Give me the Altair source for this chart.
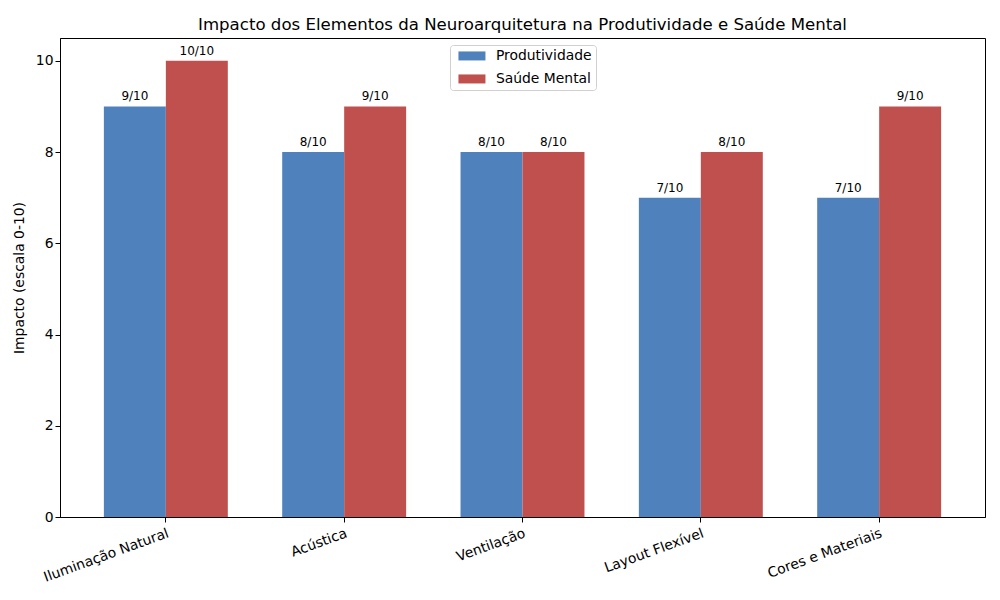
import altair as alt
import pandas as pd

categories = ["Iluminação Natural", "Acústica", "Ventilação", "Layout Flexível", "Cores e Materiais"]
produtividade = [9, 8, 8, 7, 7]
saude_mental = [10, 9, 8, 8, 9]
series = ["Produtividade", "Saúde Mental"]
colors = ["#4f81bd", "#c0504d"]

rows = []
for c, p, s in zip(categories, produtividade, saude_mental):
    rows.append({"cat": c, "serie": series[0], "valor": p, "label": f"{p}/10"})
    rows.append({"cat": c, "serie": series[1], "valor": s, "label": f"{s}/10"})
df = pd.DataFrame(rows)

FONT = "DejaVu Sans"

xenc = alt.X("cat:N", sort=categories, title=None,
             scale=alt.Scale(paddingInner=0.305, paddingOuter=0.246),
             axis=alt.Axis(labelAngle=-20, labelAlign="right", labelBaseline="top",
                           labelFontSize=13.9, labelColor="black", tickColor="black",
                           domainColor="black", tickSize=5, labelPadding=4, labelFont=FONT))
yenc = alt.Y("valor:Q", title="Impacto (escala 0-10)",
             scale=alt.Scale(domain=[0, 10.5], nice=False),
             axis=alt.Axis(values=[0, 2, 4, 6, 8, 10], grid=False, labelFontSize=13.9,
                           labelColor="black", tickColor="black", domainColor="black",
                           tickSize=5, titleFontSize=13.9, titleFontWeight="normal",
                           titleColor="black", titleFont=FONT, labelFont=FONT, titlePadding=9))
xoff = alt.XOffset("serie:N", sort=series, scale=alt.Scale(paddingInner=0, paddingOuter=0))

bars = alt.Chart(df).mark_bar().encode(
    x=xenc, y=yenc, xOffset=xoff,
    color=alt.Color("serie:N", sort=series, scale=alt.Scale(domain=series, range=colors),
                    legend=alt.Legend(title=None, orient="none", legendX=390, legendY=7,
                                      symbolType="M-3,-1h6v2h-6Z",
                                      symbolSize=81, symbolStrokeWidth=0,
                                      symbolOffset=11, labelOffset=17,
                                      labelFontSize=13.9, labelFont=FONT, labelColor="black",
                                      strokeColor="#d0d0d0", fillColor="white", padding=4,
                                      cornerRadius=3, rowPadding=8)),
)

text = alt.Chart(df).mark_text(baseline="bottom", dy=-3, fontSize=12, font=FONT, color="black").encode(
    x=alt.X("cat:N", sort=categories), y="valor:Q", xOffset=xoff, text="label:N"
)

chart = (bars + text).properties(
    width=925, height=479,
    title=alt.TitleParams("Impacto dos Elementos da Neuroarquitetura na Produtividade e Saúde Mental",
                          fontSize=16.6, fontWeight="normal", font=FONT, color="black", offset=4),
    padding={"left": 60, "top": 38, "right": 15, "bottom": 83},
    autosize=alt.AutoSizeParams(type="none"),
).configure(background="white").configure_view(stroke="black", strokeWidth=1)

chart.save("out.html", embed_options={"renderer": "svg", "actions": False})
